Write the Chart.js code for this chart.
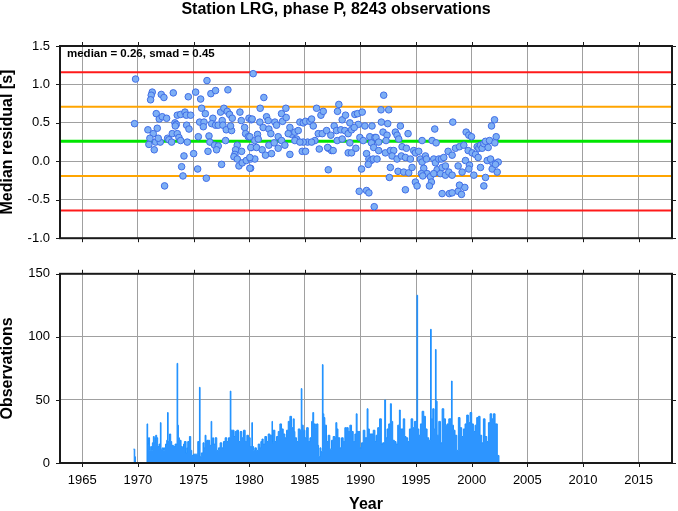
<!DOCTYPE html>
<html lang="en">
<head>
<meta charset="UTF-8">
<title>Station LRG, phase P</title>
<script src="https://cdn.jsdelivr.net/npm/chart.js@4.4.0/dist/chart.umd.min.js"></script>
<style>
  body { margin: 0; background: #fff; }
  #wrap { position: relative; width: 678px; height: 511px; }
  canvas { position: absolute; left: 0; }
</style>
</head>
<body>
<div id="wrap">
  <canvas id="residuals" width="678" height="256" style="top:0"></canvas>
  <canvas id="counts" width="678" height="255" style="top:256px"></canvas>
</div>
<script>
// ---- data ----
const chartTitle = 'Station LRG, phase P, 8243 observations';
const statsLabel = 'median = 0.26, smad = 0.45';
const xRange = [1963, 2018];
const xTickYears = [1965, 1970, 1975, 1980, 1985, 1990, 1995, 2000, 2005, 2010, 2015];

// reference lines: median +/- 1 and 2 smad
const refLevels = [1.16, 0.71, 0.26, -0.19, -0.64];
const refColors = ['#ff1a1a', '#ffa500', '#00e600', '#ffa500', '#ff1a1a'];

// monthly median residuals
const resYears = [
  1969.79,1969.70,1971.29,1971.20,1971.14,1972.10,1972.34,1973.18,1974.53,1975.19,1975.64,1976.21,1976.56,1976.98,1978.09,
  1971.65,1971.92,1972.19,1972.58,1970.90,1971.74,1971.38,1971.08,1970.99,1971.59,1972.01,1971.47,1971.83,1972.40,1972.67,
  1972.79,1973.03,1973.09,1973.33,1973.45,1973.36,1973.54,1973.84,1974.23,1974.35,1974.74,1973.54,1973.69,1973.84,1974.38,
  1974.59,1974.44,1974.14,1973.93,1974.05,1975.01,1975.37,1976.15,1975.43,1975.73,1976.06,1975.55,1975.94,1975.88,1976.39,
  1976.47,1976.74,1976.63,1976.98,1977.22,1977.58,1977.64,1977.43,1977.73,1978.03,1978.24,1978.48,1977.94,1978.42,1978.33,
  1977.88,1976.89,1977.22,1977.07,1976.30,1977.52,1979.17,1979.29,1979.59,1979.68,1979.98,1980.19,1979.92,1980.19,1978.93,
  1978.78,1978.72,1978.63,1978.93,1979.32,1979.08,1979.38,1979.74,1980.13,1980.13,
  1980.36,1981.32,1980.99,1980.27,1980.96,1981.56,1980.06,1980.75,1980.51,1980.81,1981.26,1981.77,1981.71,1982.31,1982.46,
  1981.95,1980.15,1980.66,1981.17,1981.47,1982.01,1981.77,1982.25,1982.61,1982.91,1980.51,1980.06,1982.91,1983.00,1983.30,
  1983.33,1983.66,1983.81,1983.51,1984.11,1984.26,1984.41,1984.56,1984.86,1985.07,1985.46,1985.61,1985.76,1986.06,1986.45,
  1986.66,1983.66,1984.77,1985.07,1985.25,1984.86,1986.30,1985.91,1985.61,1986.21,1986.57,1986.96,1987.11,1987.40,1987.34,
  1987.64,1987.94,1988.06,1988.36,1988.66,1989.05,1987.85,1988.24,1988.60,1987.91,1988.36,1988.90,1989.20,1989.50,1989.74,
  1990.16,1989.80,1989.44,1989.05,1988.90,1989.20,1989.59,1989.95,1990.25,1990.40,1990.84,1990.99,1991.30,1990.55,1990.76,
  1990.94,1991.15,1990.70,1990.10,1987.11,1989.89,1990.55,1990.76,1991.24,1980.06,1984.11,1984.56,1983.21,1982.61,1987.05,
  1987.55,
  1992.09,1991.85,1992.54,1991.04,1991.88,1992.45,1993.59,1994.28,1992.03,1992.39,1991.40,1992.30,1993.14,1993.29,1993.44,
  1991.64,1991.19,1991.64,1992.24,1992.69,1992.99,1993.74,1994.13,1991.49,1992.84,1993.29,1993.68,1994.04,1994.49,1994.79,
  1994.94,1995.24,1995.54,1992.69,1993.38,1993.89,1994.34,1994.64,1992.60,1994.04,1994.94,1995.09,1995.39,1995.54,1995.84,
  1995.93,1995.69,1995.99,1995.48,1995.60,1996.29,1996.38,1996.20,1996.68,1996.44,1996.80,1996.59,1996.74,1997.04,1997.28,
  1997.49,1996.89,1997.34,1997.64,1996.59,1997.19,1997.64,1997.94,1998.24,1997.34,1997.99,1997.88,1998.24,1998.30,1998.54,
  1998.90,1999.29,1998.78,1999.14,1998.78,1999.08,1998.90,1999.38,1999.44,1999.80,1999.74,2000.19,1999.50,1999.74,1999.98,
  1999.68,2000.04,2000.34,2000.49,2000.64,2000.79,2000.94,2001.09,2001.24,2001.48,2000.58,2000.79,2001.09,2001.24,2001.39,
  2001.60,2001.78,2002.05,2002.20,2002.08,2001.84,2001.90,2002.29,2002.38,2002.14,2001.69,1998.24
];
const resValues = [
  1.07,0.49,0.90,0.86,0.80,0.87,0.83,0.89,0.84,0.90,0.81,1.05,0.88,0.92,0.93,
  0.62,0.55,0.58,0.56,0.41,0.43,0.36,0.30,0.22,0.25,0.25,0.15,0.30,-0.32,0.30,
  0.28,0.25,0.36,0.50,0.48,0.46,0.60,0.61,0.64,0.60,0.60,0.36,0.31,0.27,0.47,
  0.42,0.25,0.07,-0.07,-0.19,0.10,-0.10,-0.22,0.32,0.69,0.62,0.51,0.51,0.45,0.33,
  0.25,0.56,0.49,0.47,0.47,0.53,0.47,0.64,0.69,0.65,0.61,0.56,0.41,0.40,0.46,
  0.27,0.21,0.20,0.15,0.13,-0.04,0.64,0.53,0.44,0.36,0.56,0.54,0.32,0.18,0.21,
  0.15,0.09,0.06,0.03,0.13,-0.06,-0.02,0.01,0.03,-0.09,
  1.14,0.83,0.69,0.55,0.51,0.58,0.32,0.35,0.27,0.29,0.44,0.42,0.53,0.51,0.47,
  0.36,0.18,0.18,0.15,0.08,0.10,0.21,0.24,0.32,0.27,0.03,-0.09,0.62,0.52,0.69,
  0.57,0.44,0.35,0.36,0.38,0.29,0.40,0.51,0.50,0.52,0.52,0.55,0.46,0.69,0.60,
  0.65,0.09,0.13,0.13,0.25,0.25,0.16,0.27,0.25,0.36,0.36,0.40,0.17,0.14,0.34,
  0.46,0.65,0.74,0.54,0.60,0.50,0.40,0.41,0.40,0.27,0.29,0.36,0.41,0.61,0.62,
  0.64,0.48,0.44,0.24,0.11,0.11,0.17,0.31,0.27,0.46,0.32,0.24,0.31,0.10,0.03,
  0.01,0.03,-0.04,-0.10,-0.11,-0.39,-0.38,-0.41,-0.59,0.05,0.27,0.25,0.21,0.17,0.18,
  0.14,
  0.86,0.67,0.67,0.46,0.51,0.49,0.46,0.36,0.38,0.34,0.31,0.27,0.38,0.34,0.29,
  0.25,0.18,0.14,0.11,0.14,0.14,0.19,0.17,0.03,0.07,0.03,0.07,0.05,0.03,0.14,
  0.11,0.13,0.27,-0.08,-0.13,-0.14,-0.15,-0.08,-0.21,-0.37,-0.27,-0.32,0.03,-0.01,0.07,
  0.03,-0.09,-0.16,-0.16,-0.19,-0.20,-0.27,-0.32,0.42,0.27,0.24,0.03,-0.02,0.03,0.03,
  0.05,-0.11,-0.08,-0.06,-0.16,-0.16,-0.18,-0.14,-0.18,-0.42,-0.42,0.13,0.08,0.51,0.17,
  0.19,0.21,-0.06,-0.14,-0.39,-0.43,-0.31,-0.34,0.01,-0.05,-0.10,-0.18,0.38,0.34,0.32,
  0.14,0.11,0.09,0.19,0.17,0.21,0.17,0.23,0.26,0.18,0.05,-0.08,-0.32,-0.21,0.01,
  0.27,0.46,0.54,0.32,0.24,-0.10,-0.02,-0.14,-0.01,-0.04,0.03,-0.41
];

// observations per time bin (value holds until the next year entry)
const obsYears = [
  1969.60,1969.72,1969.78,1970.82,1970.88,1970.95,1971.05,1971.15,1971.24,1971.30,1971.39,1971.47,1971.54,1971.60,1971.69,
  1971.78,1971.90,1972.02,1972.08,1972.20,1972.30,1972.38,1972.48,1972.59,1972.66,1972.72,1972.84,1972.95,1973.04,1973.19,
  1973.34,1973.52,1973.58,1973.64,1973.73,1973.88,1974.00,1974.10,1974.18,1974.33,1974.40,1974.48,1974.63,1974.75,1974.84,
  1974.99,1975.14,1975.29,1975.38,1975.53,1975.59,1975.70,1975.85,1975.95,1976.04,1976.12,1976.19,1976.34,1976.45,1976.58,
  1976.64,1976.72,1976.79,1976.94,1977.09,1977.24,1977.39,1977.54,1977.69,1977.84,1977.99,1978.14,1978.30,1978.36,1978.50,
  1978.64,1978.74,1978.89,1979.04,1979.19,1979.34,1979.49,1979.64,1979.79,1979.94,1980.09,1980.24,
  1980.30,1980.40,1980.51,1980.65,1980.81,1980.95,1981.05,1981.15,1981.26,1981.41,1981.56,1981.71,1981.86,1982.05,1982.10,
  1982.16,1982.31,1982.46,1982.61,1982.76,1982.91,1983.06,1983.21,1983.36,1983.51,1983.66,1983.81,1983.96,1984.05,1984.11,
  1984.26,1984.41,1984.56,1984.68,1984.74,1984.86,1985.01,1985.16,1985.31,1985.46,1985.61,1985.72,1985.80,1985.95,1986.06,
  1986.18,1986.24,1986.36,1986.45,1986.58,1986.64,1986.71,1986.80,1986.95,1987.10,1987.25,1987.40,1987.55,1987.70,1987.79,
  1987.88,1987.98,1988.15,1988.30,1988.45,1988.60,1988.75,1988.90,1989.05,1989.20,1989.35,1989.50,1989.62,1989.70,1989.80,
  1989.95,1990.10,1990.25,1990.40,1990.60,1990.68,1990.80,1990.94,1991.15,1991.30,
  1991.40,1991.55,1991.72,1991.88,1992.00,1992.18,1992.26,1992.39,1992.54,1992.69,1992.78,1992.90,1993.05,1993.20,1993.35,
  1993.50,1993.58,1993.70,1993.85,1993.98,1994.10,1994.25,1994.40,1994.55,1994.70,1994.85,1995.08,1995.14,1995.25,1995.39,
  1995.54,1995.69,1995.84,1995.99,1996.14,1996.30,1996.36,1996.50,1996.62,1996.74,1996.80,1996.89,1997.04,1997.19,1997.34,
  1997.49,1997.64,1997.79,1997.94,1998.18,1998.24,1998.36,1998.50,1998.66,1998.80,1998.95,1999.10,1999.25,1999.40,1999.55,
  1999.70,1999.85,2000.00,2000.15,2000.30,2000.45,2000.60,2000.75,2000.90,2001.05,2001.20,2001.35,2001.50,2001.65,2001.80,
  2001.95,2002.10,2002.30,2002.45
];
const obsCounts = [
  11,5,0,31,15,20,10,13,10,16,21,16,20,22,20,
  13,15,32,11,12,10,12,15,18,40,17,23,17,14,13,
  15,79,30,20,18,13,12,15,17,8,12,17,21,10,6,
  7,7,7,17,60,5,8,16,12,22,17,18,18,14,33,
  15,20,15,20,10,12,16,12,17,20,17,20,57,26,26,
  21,25,26,17,25,20,26,17,22,20,13,32,
  13,10,12,10,15,12,17,19,15,21,17,23,22,33,16,
  26,17,21,25,31,27,23,20,26,33,37,28,35,25,20,
  17,27,26,59,30,26,20,28,17,20,33,40,31,28,31,
  14,5,12,9,78,39,36,30,17,22,11,18,21,20,32,
  27,20,12,20,17,28,28,25,30,25,17,23,39,25,25,
  12,16,26,20,43,27,23,23,26,17,
  22,28,35,15,16,50,20,27,31,47,33,18,17,15,30,
  42,27,27,35,21,20,17,27,35,28,33,133,27,22,31,
  41,37,27,20,18,106,35,43,27,90,49,22,33,16,43,
  35,30,31,35,65,30,26,22,10,36,28,21,27,31,38,
  32,40,31,25,30,36,37,22,16,35,21,17,32,39,35,
  39,31,6,0
];

// ---- drawing ----
const FONT = "'Liberation Sans', Arial, Helvetica, sans-serif";
Chart.defaults.font.family = FONT;
Chart.defaults.color = '#000';

const gridColor = '#a0a0a0';
const yearTicks = s => { s.ticks = xTickYears.map(v => ({value: v})); };

// plot frame plus outward ticks on all four sides
const framePlugin = {
  id: 'frame',
  afterDraw(chart) {
    const {ctx, chartArea: a, scales} = chart;
    ctx.save();
    ctx.strokeStyle = '#1a1a1a';
    ctx.lineWidth = 1;
    ctx.beginPath();
    scales.x.ticks.forEach(t => {
      const px = Math.round(scales.x.getPixelForValue(t.value)) + 0.5;
      ctx.moveTo(px, a.top); ctx.lineTo(px, a.top - 4);
      ctx.moveTo(px, a.bottom); ctx.lineTo(px, a.bottom + 4);
    });
    scales.y.ticks.forEach(t => {
      const py = Math.round(scales.y.getPixelForValue(t.value)) + 0.5;
      ctx.moveTo(a.left, py); ctx.lineTo(a.left - 4, py);
      ctx.moveTo(a.right, py); ctx.lineTo(a.right + 4, py);
    });
    ctx.stroke();
    ctx.lineWidth = 2;
    ctx.strokeRect(a.left, a.top, a.right - a.left, a.bottom - a.top);
    ctx.restore();
  }
};

const statsPlugin = {
  id: 'stats',
  afterDraw(chart) {
    const {ctx, chartArea: a} = chart;
    ctx.save();
    ctx.font = 'bold 11.5px ' + FONT;
    ctx.fillStyle = '#000';
    ctx.textBaseline = 'middle';
    ctx.fillText(statsLabel, a.left + 7, a.top + 8);
    ctx.restore();
  }
};

const axisTitleFont = {size: 16, weight: 'bold', lineHeight: 1};

new Chart(document.getElementById('residuals'), {
  data: {
    datasets: [
      ...refLevels.map((v, i) => ({
        type: 'line',
        data: [{x: xRange[0], y: v}, {x: xRange[1], y: v}],
        borderColor: refColors[i],
        borderWidth: i === 2 ? 3 : 2,
        pointRadius: 0,
        order: 2
      })),
      {
        type: 'scatter',
        data: resYears.map((x, i) => ({x: x, y: resValues[i]})),
        backgroundColor: 'rgb(125,175,245)',
        borderColor: 'rgb(65,110,230)',
        borderWidth: 1,
        pointRadius: 3.3,
        order: 1
      }
    ]
  },
  options: {
    responsive: false,
    animation: false,
    layout: {padding: {left: 0, right: 6, top: 0, bottom: 0}},
    plugins: {
      legend: {display: false},
      tooltip: {enabled: false},
      title: {
        display: true,
        text: chartTitle,
        color: '#000',
        font: {size: 16, weight: 'bold', lineHeight: 1},
        padding: {top: 2, bottom: 28}
      }
    },
    scales: {
      x: {
        type: 'linear', min: xRange[0], max: xRange[1],
        afterFit: s => { s.height = 8; },
        afterBuildTicks: yearTicks,
        ticks: {display: false},
        grid: {color: gridColor, drawTicks: false},
        border: {display: false}
      },
      y: {
        min: -1, max: 1.5,
        afterFit: s => { s.width = 60; },
        ticks: {stepSize: 0.5, padding: 10, font: {size: 13}, callback: v => v.toFixed(1)},
        grid: {color: gridColor, drawTicks: false},
        border: {display: false},
        title: {display: true, text: 'Median residual [s]', font: axisTitleFont, padding: 0}
      }
    }
  },
  plugins: [framePlugin, statsPlugin]
});

new Chart(document.getElementById('counts'), {
  type: 'line',
  data: {
    datasets: [{
      data: obsYears.map((x, i) => ({x: x, y: obsCounts[i]})),
      stepped: 'before',
      fill: 'origin',
      backgroundColor: '#2d95ff',
      borderColor: '#1e90ff',
      borderWidth: 1,
      pointRadius: 0
    }]
  },
  options: {
    responsive: false,
    animation: false,
    layout: {padding: {left: 0, right: 6, top: 6, bottom: 0}},
    plugins: {legend: {display: false}, tooltip: {enabled: false}},
    scales: {
      x: {
        type: 'linear', min: xRange[0], max: xRange[1],
        afterFit: s => { s.height = 48; },
        afterBuildTicks: yearTicks,
        ticks: {padding: 10, font: {size: 13}, maxRotation: 0, autoSkip: false, callback: v => String(v)},
        grid: {color: gridColor, drawTicks: false},
        border: {display: false},
        title: {display: true, text: 'Year', font: axisTitleFont, padding: {top: 0, bottom: -2}}
      },
      y: {
        min: 0, max: 150,
        afterFit: s => { s.width = 60; },
        ticks: {stepSize: 50, padding: 10, font: {size: 13}},
        grid: {color: gridColor, drawTicks: false},
        border: {display: false},
        title: {display: true, text: 'Observations', font: axisTitleFont, padding: 0}
      }
    }
  },
  plugins: [framePlugin]
});
</script>
</body>
</html>
